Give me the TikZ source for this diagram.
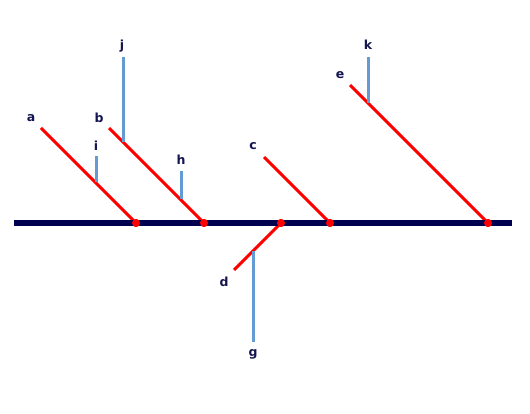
\documentclass[tikz,border=0pt]{standalone}
\usepackage{fontspec}
\setmainfont{DejaVu Sans}
\definecolor{spine}{RGB}{0,0,80}
\definecolor{bone}{RGB}{255,0,0}
\definecolor{twig}{RGB}{100,155,210}
\definecolor{lbl}{RGB}{20,20,80}
\begin{document}
\begin{tikzpicture}[x=1pt,y=-1pt,
  spineline/.style={draw=spine,line width=6pt},
  boneline/.style={draw=bone,line width=3pt},
  twigline/.style={draw=twig,line width=3pt},
  joint/.style={circle,fill=bone,inner sep=0pt,minimum size=8pt},
  lab/.style={font=\bfseries\fontsize{12.5}{14}\selectfont,text=lbl,inner sep=0pt}]
\useasboundingbox (0,0) rectangle (530,414);
% spine
\coordinate (s0) at (14,223);
\coordinate (s1) at (512,223);
% joints
\node[joint] (pa) at (136,223) {};
\node[joint] (pb) at (204,223) {};
\node[joint] (pd) at (281,223) {};
\node[joint] (pc) at (330,223) {};
\node[joint] (pe) at (488,223) {};
% bone ends
\coordinate (ea) at (41,128);
\coordinate (eb) at (109,128);
\coordinate (ec) at (264,157);
\coordinate (ee) at (350,85);
\coordinate (ed) at (234,270);
% twig points
\coordinate (tj0) at (123,142);
\coordinate (tj1) at (123,57);
\coordinate (ti0) at (96,182);
\coordinate (ti1) at (96,156);
\coordinate (th0) at (181,199);
\coordinate (th1) at (181,171);
\coordinate (tk0) at (368,103);
\coordinate (tk1) at (368,57);
\coordinate (tg0) at (253,251);
\coordinate (tg1) at (253,342);
% draw
\draw[boneline] (pa.center) -- (ea);
\draw[boneline] (pb.center) -- (eb);
\draw[boneline] (pc.center) -- (ec);
\draw[boneline] (pe.center) -- (ee);
\draw[boneline] (pd.center) -- (ed);
\draw[twigline] (tj0) -- (tj1);
\draw[twigline] (ti0) -- (ti1);
\draw[twigline] (th0) -- (th1);
\draw[twigline] (tk0) -- (tk1);
\draw[twigline] (tg0) -- (tg1);
\draw[spineline] (s0) -- (s1);
\foreach \p in {pa,pb,pd,pc,pe} \node[joint] at (\p) {};
% labels
\node[lab] (la) at (31,118) {a};
\node[lab] (lb) at (99,118) {b};
\node[lab] (lc) at (253,146) {c};
\node[lab] (ld) at (224,282) {d};
\node[lab] (le) at (340,75) {e};
\node[lab] (lg) at (253,354) {g};
\node[lab] (lh) at (181,160) {h};
\node[lab] (li) at (96,146) {i};
\node[lab] (lj) at (122,46) {j};
\node[lab] (lk) at (368,45) {k};
\end{tikzpicture}
\end{document}
